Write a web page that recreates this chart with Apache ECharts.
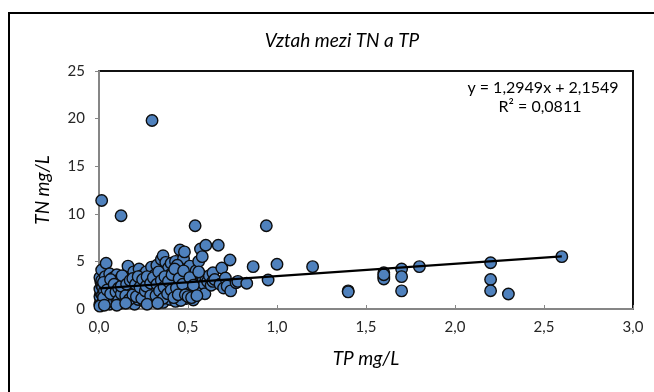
<!DOCTYPE html>
<html>
<head>
<meta charset="utf-8">
<script src="https://cdn.jsdelivr.net/npm/echarts@6/dist/echarts.min.js"></script>
<style>html,body{margin:0;padding:0;background:#fff;}#c{width:654px;height:392px;}</style>
</head>
<body>
<div id="c"></div>
<script>
// TP (mg/L), TN (mg/L) samples
const points = [
[0.005,0.5],[0.01,0.9],[0.005,1.3],[0.01,1.7],[0.005,2.1],[0.015,2.5],[0.01,2.9],[0.005,3.3],[0.015,4.1],[0.02,0.7],[0.02,1.5],[0.02,2.3],[0.015,3.0],[0.015,11.4],
[0.03,0.6],[0.035,1.1],[0.03,1.9],[0.04,2.6],[0.035,3.4],[0.04,4.8],[0.05,0.9],[0.05,1.6],[0.055,2.2],[0.05,2.9],[0.06,3.7],[0.045,1.3],[0.06,0.5],[0.06,2.5],
[0.07,1.2],[0.075,1.9],[0.07,2.7],[0.08,3.3],[0.085,0.7],[0.09,1.5],[0.09,2.3],[0.095,3.0],[0.1,3.6],[0.1,1.0],[0.105,2.0],[0.11,2.6],[0.115,1.4],[0.12,3.2],[0.12,0.6],[0.124,9.8],[0.08,2.0],[0.1,2.8],
[0.13,1.9],[0.135,2.5],[0.14,1.1],[0.145,3.1],[0.15,2.1],[0.155,3.6],[0.16,0.8],[0.163,4.5],[0.165,1.6],[0.17,2.7],[0.175,2.0],[0.18,3.3],[0.185,1.2],[0.19,2.4],[0.195,3.9],[0.2,1.7],[0.2,0.5],[0.14,2.9],[0.18,2.9],
[0.21,2.2],[0.215,3.0],[0.22,1.0],[0.225,4.2],[0.23,1.8],[0.235,2.6],[0.24,3.5],[0.245,1.4],[0.25,2.1],[0.255,0.8],[0.26,3.0],[0.265,3.9],[0.27,1.7],[0.275,2.5],[0.28,1.1],[0.285,3.3],[0.29,2.0],[0.295,4.4],[0.298,19.8],[0.3,1.5],[0.3,2.8],[0.25,2.7],[0.28,2.3],
[0.31,0.9],[0.31,2.4],[0.315,3.6],[0.32,1.8],[0.325,4.6],[0.33,2.9],[0.335,1.2],[0.34,2.2],[0.345,3.4],[0.35,5.2],[0.35,1.6],[0.355,2.6],[0.36,5.6],[0.36,0.7],[0.365,3.9],[0.37,2.0],[0.375,4.9],[0.38,1.3],[0.38,3.1],[0.385,2.4],[0.39,4.3],[0.395,1.8],[0.4,2.8],[0.4,3.6],[0.4,1.0],
[0.405,4.8],[0.41,2.1],[0.415,1.5],[0.42,3.2],[0.425,2.5],[0.43,5.0],[0.43,0.8],[0.435,3.9],[0.44,1.9],[0.445,2.9],[0.45,4.4],[0.455,6.2],[0.455,1.3],[0.46,2.3],[0.465,3.5],[0.47,1.7],[0.475,5.3],[0.48,2.7],[0.48,6.0],[0.485,3.1],[0.49,1.1],[0.49,4.1],[0.495,2.0],[0.5,3.7],[0.5,2.5],[0.44,4.6],[0.46,0.9],
[0.505,1.5],[0.51,4.5],[0.515,2.9],[0.52,2.2],[0.525,3.4],[0.53,0.95],[0.535,1.8],[0.54,8.75],[0.54,2.6],[0.545,4.0],[0.55,3.1],[0.555,2.0],[0.56,5.0],[0.565,2.7],[0.57,6.3],[0.57,3.6],[0.575,2.3],[0.58,5.5],[0.585,3.0],[0.59,2.6],[0.6,6.7],[0.6,3.3],[0.595,1.6],
[0.61,2.9],[0.62,3.5],[0.63,2.5],[0.64,3.8],[0.64,2.9],[0.65,3.1],[0.67,6.7],[0.68,2.6],[0.69,4.3],[0.70,2.2],[0.71,3.25],[0.72,2.4],[0.736,5.15],[0.74,1.9],[0.77,2.76],[0.78,2.9],[0.83,2.7],[0.866,4.45],
[0.94,8.75],[0.95,3.05],[1.0,4.7],[1.2,4.45],[1.4,1.9],[1.4,1.8],[1.6,3.8],[1.6,3.4],[1.6,3.15],[1.6,3.6],[1.7,4.2],[1.7,3.4],[1.7,1.9],[1.8,4.45],[2.2,4.86],[2.2,3.1],[2.2,1.92],[2.3,1.57],[2.6,5.5],
[0.025,1.2],[0.025,2.8],[0.045,2.0],[0.065,1.6],[0.065,3.1],[0.085,2.6],[0.095,1.8],[0.11,0.9],[0.11,2.2],[0.125,1.6],[0.125,2.4],[0.13,3.5],[0.15,1.4],[0.155,2.6],[0.17,1.0],[0.175,3.0],[0.19,1.5],[0.19,3.2],[0.205,2.6],[0.21,1.3],[0.22,3.4],[0.23,2.3],[0.24,1.1],[0.245,3.1],[0.26,1.9],[0.265,2.4],[0.27,3.4],[0.29,1.4],[0.29,2.7],[0.305,3.3],[0.32,1.4],[0.325,2.6],[0.335,3.9],[0.34,1.9],[0.35,3.0],[0.36,1.1],[0.365,2.3],[0.37,3.4],[0.385,1.6],[0.39,2.9],[0.405,2.0],[0.41,3.6],[0.42,1.2],[0.425,4.2],[0.435,2.2],[0.445,1.5],[0.45,3.2],[0.47,2.6],[0.475,4.0],[0.485,1.5],[0.5,1.3],[0.51,3.3],[0.52,1.2],[0.53,2.5],[0.55,1.4],[0.56,3.9],[0.005,0.3],[0.03,0.4],[0.1,0.4],[0.15,0.6],[0.27,0.5],[0.33,0.6]
];
const trendSlope = 1.2949;
const trendIntercept = 2.1549;
const trendRange = [0.005, 2.6];
const equationLines = ['y = 1,2949x + 2,1549', 'R² = 0,0811'];
const titleText = 'Vztah mezi TN a TP';
const xName = 'TP mg/L';
const yName = 'TN mg/L';

const trendData = trendRange.map(x => [x, trendSlope * x + trendIntercept]);
const FONT = 'Lato, "Open Sans", sans-serif';
const fmt = v => v.toFixed(1).replace('.', ',');

const chart = echarts.init(document.getElementById('c'), null, {renderer: 'canvas'});
chart.setOption({
  animation: false,
  backgroundColor: '#fff',
  title: {
    text: titleText, left: 337, top: 26, textAlign: 'center',
    textStyle: {fontFamily: FONT, fontStyle: 'italic', fontWeight: 'normal', fontSize: 19, color: '#000'}
  },
  grid: {left: 99, top: 71, right: 21, bottom: 83, show: true, borderColor: '#111', borderWidth: 2, backgroundColor: 'transparent'},
  xAxis: {
    type: 'value', min: 0, max: 3, interval: 0.5,
    name: xName, nameLocation: 'middle', nameGap: 40,
    nameTextStyle: {fontFamily: FONT, fontStyle: 'italic', fontSize: 19, color: '#000'},
    axisLine: {show: true, onZero: false, lineStyle: {color: '#868686', width: 2}},
    axisTick: {show: true, inside: true, length: 4, lineStyle: {color: '#868686'}},
    axisLabel: {formatter: fmt, fontFamily: FONT, fontSize: 15, color: '#262626', margin: 11},
    splitLine: {show: false}
  },
  yAxis: {
    type: 'value', min: 0, max: 25, interval: 5,
    name: yName, nameLocation: 'middle', nameGap: 47, nameRotate: 90,
    nameTextStyle: {fontFamily: FONT, fontStyle: 'italic', fontSize: 19, color: '#000'},
    axisLine: {show: true, onZero: false, lineStyle: {color: '#868686', width: 2}},
    axisTick: {show: true, inside: false, length: 4, lineStyle: {color: '#868686'}},
    axisLabel: {fontFamily: FONT, fontSize: 15, color: '#262626', margin: 14},
    splitLine: {show: false}
  },
  series: [
    {
      type: 'scatter', data: points, symbol: 'circle', symbolSize: 11.5,
      itemStyle: {color: '#4f81bd', borderColor: '#0d0d0d', borderWidth: 1.4, opacity: 1},
      z: 2
    },
    {
      type: 'line', data: trendData, symbol: 'none', silent: true,
      lineStyle: {color: '#000', width: 2.2}, z: 3
    }
  ],
  graphic: [
    {type: 'rect', shape: {x: 9, y: 13, width: 700, height: 420}, style: {fill: 'none', stroke: '#000', lineWidth: 2}, silent: true, z: 10},
    {type: 'text', x: 543, y: 88, style: {text: equationLines[0], font: '16px ' + FONT, fill: '#000', align: 'center', verticalAlign: 'middle'}, z: 10},
    {type: 'text', x: 540, y: 107, style: {text: equationLines[1], font: '16px ' + FONT, fill: '#000', align: 'center', verticalAlign: 'middle'}, z: 10}
  ]
});
</script>
</body>
</html>
